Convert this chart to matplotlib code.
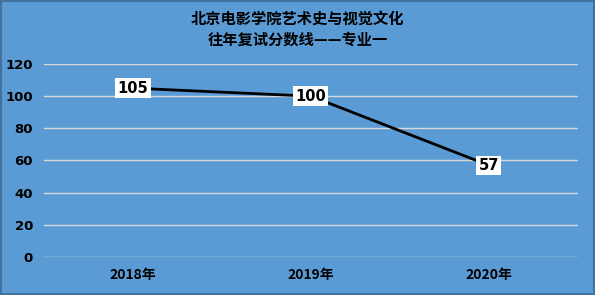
import matplotlib.pyplot as plt

plt.rcParams['font.family'] = ['Noto Sans CJK SC', 'DejaVu Sans']

years = ['2018年', '2019年', '2020年']
scores = [105, 100, 57]
yticks = [0, 20, 40, 60, 80, 100, 120]

bg = '#5b9bd5'
fig = plt.figure(figsize=(5.95, 2.95), dpi=100, facecolor=bg)
ax = fig.add_axes([0.074, 0.129, 0.897, 0.654])
ax.set_facecolor(bg)

x = list(range(len(years)))
ax.plot(x, scores, color='black', linewidth=2, zorder=3)
for xi, v in zip(x, scores):
    ax.text(xi, v, str(v), ha='center', va='center', fontsize=10.5, fontweight='bold',
            family='DejaVu Sans', zorder=4,
            bbox=dict(boxstyle='square,pad=0.15', facecolor='white', edgecolor='none'))

ax.set_xlim(-0.5, len(years) - 0.5)
ax.set_ylim(0, 120)
ax.set_yticks(yticks)
ax.set_xticks(x)
ax.set_xticklabels(years, fontsize=10, fontweight='bold')
ax.set_yticklabels([str(t) for t in yticks], fontsize=9.5, fontweight='bold', family='DejaVu Sans')
ax.grid(axis='y', color='#d9d9d9', linewidth=1)
ax.set_axisbelow(True)
for s in ax.spines.values():
    s.set_visible(False)
ax.tick_params(length=0, pad=8)
ax.tick_params(axis='x', pad=8)

fig.text(0.5, 0.935, '北京电影学院艺术史与视觉文化', ha='center', va='center',
         fontsize=11, fontweight='bold')
fig.text(0.5, 0.865, '往年复试分数线——专业一', ha='center', va='center',
         fontsize=11, fontweight='bold')

border = plt.Rectangle((0.002, 0.003), 0.996, 0.994, transform=fig.transFigure,
                       fill=False, edgecolor='#41719c', linewidth=1.5)
fig.patches.append(border)

fig.savefig('out.png', dpi=100, facecolor=bg)
